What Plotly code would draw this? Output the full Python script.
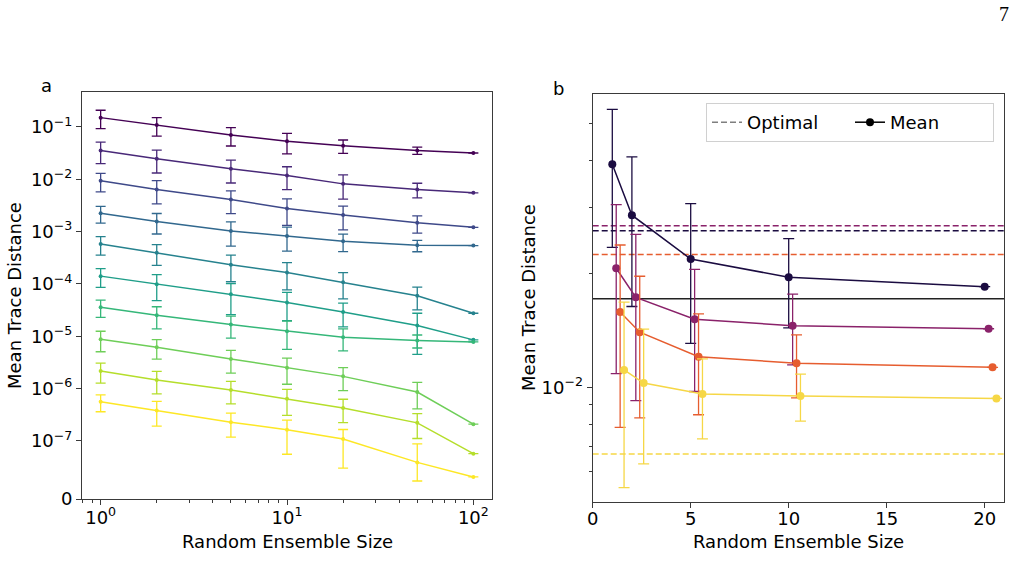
import numpy as np
import plotly.graph_objects as go

# ---------------- Panel a data ----------------
ensemble_a = [1, 2, 5, 10, 20, 50, 100]
colors_a = ["#440154", "#482878", "#3e4989", "#31688e", "#26828e",
            "#1f9e89", "#35b779", "#6ece58", "#b5de2b", "#fde725"]

a_mean_1 = [0.151, 0.109, 0.0703, 0.0532, 0.0439, 0.0357, 0.0318]
a_std_1 = [0.058, 0.042, 0.027, 0.0225, 0.0125, 0.0057, 0]
a_mean_2 = [0.0357, 0.0247, 0.0159, 0.01186, 0.00818, 0.0064, 0.00551]
a_std_2 = [0.0158, 0.0115, 0.0074, 0.0055, 0.004, 0.002, 0]
a_mean_3 = [0.00935, 0.0064, 0.00411, 0.00277, 0.00208, 0.00147, 0.00121]
a_std_3 = [0.0036, 0.003, 0.0019, 0.00145, 0.001, 0.00053, 0]
a_mean_4 = [0.00225, 0.00156, 0.00103, 0.000824, 0.000653, 0.000547, 0.00054]
a_std_4 = [0.0008, 0.00066, 0.0005, 0.0004, 0.00024, 0.000135, 0]
a_mean_5 = [5.79e-4, 3.96e-4, 2.33e-4, 1.66e-4, 1.08e-4, 5.94e-5, 2.75e-5]
a_std_5 = [2.24e-4, 1.7e-4, 1.23e-4, 8.9e-5, 5.6e-5, 2.75e-5, 0]
a_mean_6 = [1.41e-4, 9.91e-5, 6.38e-5, 4.43e-5, 2.9e-5, 1.6e-5, 8.53e-6]
a_std_6 = [5.5e-5, 5.1e-5, 3.8e-5, 2.44e-5, 1.39e-5, 1.15e-5, 0]
a_mean_7 = [3.59e-5, 2.52e-5, 1.67e-5, 1.25e-5, 9.55e-6, 8.26e-6, 7.8e-6]
a_std_7 = [1.3e-5, 1.14e-5, 7.5e-6, 6.9e-6, 4.3e-6, 2.3e-6, 0]
a_mean_8 = [8.75e-6, 6.15e-6, 3.68e-6, 2.51e-6, 1.71e-6, 8.59e-7, 2.09e-7]
a_std_8 = [3.7e-6, 2.5e-6, 1.7e-6, 1.3e-6, 8e-7, 4.5e-7, 0]
a_mean_9 = [2.17e-6, 1.46e-6, 9.38e-7, 6.38e-7, 4.24e-7, 2.21e-7, 7.8e-8]
a_std_9 = [9e-7, 6.7e-7, 4.3e-7, 3.3e-7, 2e-7, 1.1e-7, 0]
a_mean_10 = [5.6e-7, 3.81e-7, 2.28e-7, 1.63e-7, 1.09e-7, 6.3e-8, 3.8e-8]
a_std_10 = [2e-7, 1.9e-7, 1.1e-7, 8.6e-8, 5.6e-8, 3.2e-8, 0]

a_means = [a_mean_1, a_mean_2, a_mean_3, a_mean_4, a_mean_5,
           a_mean_6, a_mean_7, a_mean_8, a_mean_9, a_mean_10]
a_stds = [a_std_1, a_std_2, a_std_3, a_std_4, a_std_5,
          a_std_6, a_std_7, a_std_8, a_std_9, a_std_10]

a_ytick_values = [0, 1e-7, 1e-6, 1e-5, 1e-4, 1e-3, 1e-2, 1e-1]
a_ytick_labels = ["0", "10<sup>−7</sup>", "10<sup>−6</sup>", "10<sup>−5</sup>",
                  "10<sup>−4</sup>", "10<sup>−3</sup>", "10<sup>−2</sup>", "10<sup>−1</sup>"]
a_xtick_values = [1, 10, 100]
a_xtick_labels = ["10<sup>0</sup>", "10<sup>1</sup>", "10<sup>2</sup>"]

# ---------------- Panel b data ----------------
ensemble_b = [1, 2, 5, 10, 20]
offsets_b = [0.0, 0.2, 0.4, 0.6]
colors_b = ["#1b0c41", "#8a226a", "#e65d2f", "#f6d746"]
b_mean_1 = [0.039, 0.0286, 0.0219, 0.0196, 0.0185]
b_std_1 = [0.0155, 0.0122, 0.0088, 0.0052, 0]
b_mean_2 = [0.0207, 0.01734, 0.01517, 0.01459, 0.01432]
b_std_2 = [0.0098, 0.0081, 0.0054, 0.0031, 0]
b_mean_3 = [0.01585, 0.01402, 0.01208, 0.0116, 0.01132]
b_std_3 = [0.008, 0.0057, 0.0036, 0.0022, 0]
b_mean_4 = [0.01114, 0.01029, 0.00962, 0.00951, 0.00937]
b_std_4 = [0.0057, 0.004, 0.0023, 0.00135, 0]
b_means = [b_mean_1, b_mean_2, b_mean_3, b_mean_4]
b_stds = [b_std_1, b_std_2, b_std_3, b_std_4]
b_optimal = [0.026, 0.0268, 0.0225, 0.00668]
b_mean_reference = 0.0172
b_x_range = [0, 21]

# ---------------- helpers ----------------
LINTHRESH = 1e-7
LINSCALE = 1.0 / (1.0 - 1.0 / 10.0)


def symlog(v):
    v = np.asarray(v, dtype=float)
    return np.where(v > LINTHRESH,
                    LINSCALE + np.log10(np.maximum(v, LINTHRESH) / LINTHRESH),
                    v / LINTHRESH * LINSCALE)


FONT = "DejaVu Sans"
AXC = "#3a3a3a"
W, H = 1016, 577

fig = go.Figure()

# Panel a traces
for mean, std, col in zip(a_means, a_stds, colors_a):
    m = np.array(mean)
    s = np.array(std)
    yt = symlog(m)
    up = symlog(m + s) - yt
    dn = yt - symlog(m - s)
    fig.add_trace(go.Scatter(
        x=ensemble_a, y=yt, mode="lines+markers",
        line=dict(color=col, width=1.5),
        marker=dict(color=col, size=4),
        error_y=dict(type="data", symmetric=False, array=up, arrayminus=dn,
                     color=col, thickness=1.3, width=5),
        xaxis="x", yaxis="y", showlegend=False, hoverinfo="skip"))

# Panel b: legend dummies
fig.add_trace(go.Scatter(x=[None], y=[None], mode="lines",
                         line=dict(color="#7f7f7f", width=1.5, dash="6px,3px"),
                         name="Optimal", xaxis="x2", yaxis="y2"))
fig.add_trace(go.Scatter(x=[None], y=[None], mode="lines+markers",
                         line=dict(color="black", width=1.5),
                         marker=dict(color="black", size=8),
                         name="Mean", xaxis="x2", yaxis="y2"))

# optimal dashed lines
for opt, col in zip(b_optimal, colors_b):
    fig.add_trace(go.Scatter(x=b_x_range, y=[opt, opt], mode="lines",
                             line=dict(color=col, width=1.5, dash="6px,3px"),
                             xaxis="x2", yaxis="y2", showlegend=False, hoverinfo="skip"))
# solid mean reference line
fig.add_trace(go.Scatter(x=b_x_range, y=[b_mean_reference] * 2, mode="lines",
                         line=dict(color="#222222", width=1.5),
                         xaxis="x2", yaxis="y2", showlegend=False, hoverinfo="skip"))

for mean, std, off, col in zip(b_means, b_stds, offsets_b, colors_b):
    xs = [e + off for e in ensemble_b]
    fig.add_trace(go.Scatter(
        x=xs, y=mean, mode="lines+markers",
        line=dict(color=col, width=1.5),
        marker=dict(color=col, size=8),
        error_y=dict(type="data", array=std, color=col, thickness=1.3, width=5.5),
        xaxis="x2", yaxis="y2", showlegend=False, hoverinfo="skip"))

# ---------------- layout ----------------
def px_x(p):
    return p / W


def px_y(p):
    return 1 - p / H


tickfont = dict(family=FONT, size=18, color="black")
common = dict(showline=True, linecolor=AXC, linewidth=1, mirror=True,
              ticks="outside", ticklen=5, tickwidth=1, tickcolor=AXC,
              showgrid=False, zeroline=False, tickfont=tickfont, automargin=False)

fig.update_layout(
    width=W, height=H,
    margin=dict(l=0, r=0, t=0, b=0, pad=0, autoexpand=False),
    paper_bgcolor="white", plot_bgcolor="white",
    font=dict(family=FONT, size=18, color="black"),
    xaxis=dict(domain=[px_x(82), px_x(492)], type="log", range=[-0.1, 2.1],
               tickmode="array", tickvals=a_xtick_values, ticktext=a_xtick_labels,
               minor=dict(ticks="outside", ticklen=3, tickcolor=AXC, tickmode="array",
                          tickvals=[0.8, 0.9, 2, 3, 4, 5, 6, 7, 8, 9,
                                    20, 30, 40, 50, 60, 70, 80, 90]),
               ticklabelstandoff=-3, anchor="y", **common),
    yaxis=dict(domain=[px_y(499), px_y(92)], range=[0, 7.78],
               tickmode="array", tickvals=symlog(a_ytick_values).tolist(),
               ticktext=a_ytick_labels, anchor="x", **common),
    xaxis2=dict(domain=[px_x(592.7), px_x(1004.3)], range=b_x_range,
                tickmode="linear", tick0=0, dtick=5, ticklabelstandoff=-4,
                anchor="y2", **common),
    yaxis2=dict(domain=[px_y(501.7), px_y(94)], type="log", range=[-2.3016, -1.223],
                tickmode="array", tickvals=[0.01], ticktext=["10<sup>−2</sup>"],
                minor=dict(ticks="outside", ticklen=3, tickcolor=AXC, tickmode="array",
                           tickvals=[0.006, 0.007, 0.008, 0.009, 0.02, 0.03, 0.04, 0.05]),
                anchor="x2", **common),
    legend=dict(orientation="h", x=px_x(994), xanchor="right", y=px_y(103), yanchor="top",
                bgcolor="rgba(255,255,255,0.8)", bordercolor="#d0d0d0", borderwidth=1,
                font=dict(family=FONT, size=18, color="black"),
                entrywidth=98, entrywidthmode="pixels"),
)

ann = [
    dict(text="Mean Trace Distance", x=px_x(14), y=px_y(296), textangle=-90),
    dict(text="Mean Trace Distance", x=px_x(528), y=px_y(298), textangle=-90),
    dict(text="Random Ensemble Size", x=px_x(287), y=px_y(541)),
    dict(text="Random Ensemble Size", x=px_x(798), y=px_y(541)),
    dict(text="a", x=px_x(46), y=px_y(86)),
    dict(text="b", x=px_x(558), y=px_y(88)),
]
for a in ann:
    fig.add_annotation(xref="paper", yref="paper", showarrow=False,
                       xanchor="center", yanchor="middle",
                       font=dict(family=FONT, size=18, color="black"), **a)
fig.add_annotation(text="7", xref="paper", yref="paper", x=px_x(1004), y=px_y(14),
                   showarrow=False, xanchor="center", yanchor="middle",
                   font=dict(family="Liberation Serif", size=20, color="black"))

fig.write_html("out.html")
